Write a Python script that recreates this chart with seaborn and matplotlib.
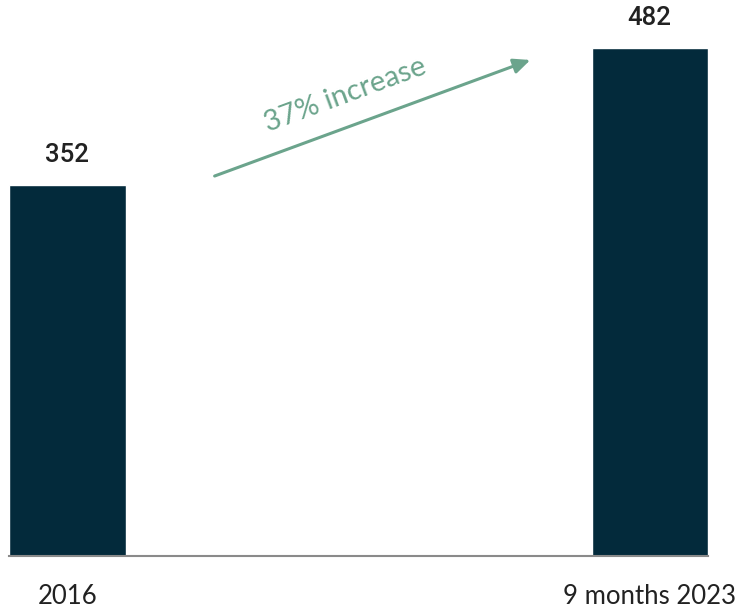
import matplotlib
matplotlib.use("Agg")
import matplotlib.pyplot as plt
import seaborn as sns
import pandas as pd

categories = ["2016", "9 months 2023"]
values = [352, 482]
increase_label = "37% increase"

sns.set_style("white")
plt.rcParams["font.family"] = ["Lato", "DejaVu Sans"]

df = pd.DataFrame({"period": categories, "count": values})

fig = plt.figure(figsize=(7.41, 6.11), dpi=100)
ax = fig.add_axes([9/741, 55/611, 699/741, 556/611])

sns.barplot(data=df, x="period", y="count", color="#032a3b", width=0.2,
            saturation=1, ax=ax)

ax.set_xlim(-0.1, 1.1)
ax.set_ylim(0, 527.5)
ax.set_xlabel("")
ax.set_ylabel("")
ax.set_yticks([])
for s in ["top", "right", "left"]:
    ax.spines[s].set_visible(False)
ax.spines["bottom"].set_color("#8a8a8a")
ax.spines["bottom"].set_linewidth(1.5)
ax.tick_params(axis="x", length=0, pad=20, labelsize=18.5, labelcolor="#222222")

for i, v in enumerate(values):
    ax.annotate(f"{v}", (i, v), xytext=(0, 13), textcoords="offset points",
                ha="center", va="bottom", fontsize=18.5, fontweight="medium",
                color="#222222", family=["Roboto", "DejaVu Sans"])

arrow_color = "#6ba48c"
ax.annotate("", xy=(0.795, 470.6), xytext=(0.253, 360.5),
            arrowprops=dict(arrowstyle="-|>,head_length=1.0,head_width=0.45",
                            color=arrow_color, lw=2.2, shrinkA=0, shrinkB=0))
ax.text(0.478, 437, increase_label, rotation=20.2, rotation_mode="anchor",
        ha="center", va="center", fontsize=21, color=arrow_color)

fig.savefig("out.png", dpi=100)
